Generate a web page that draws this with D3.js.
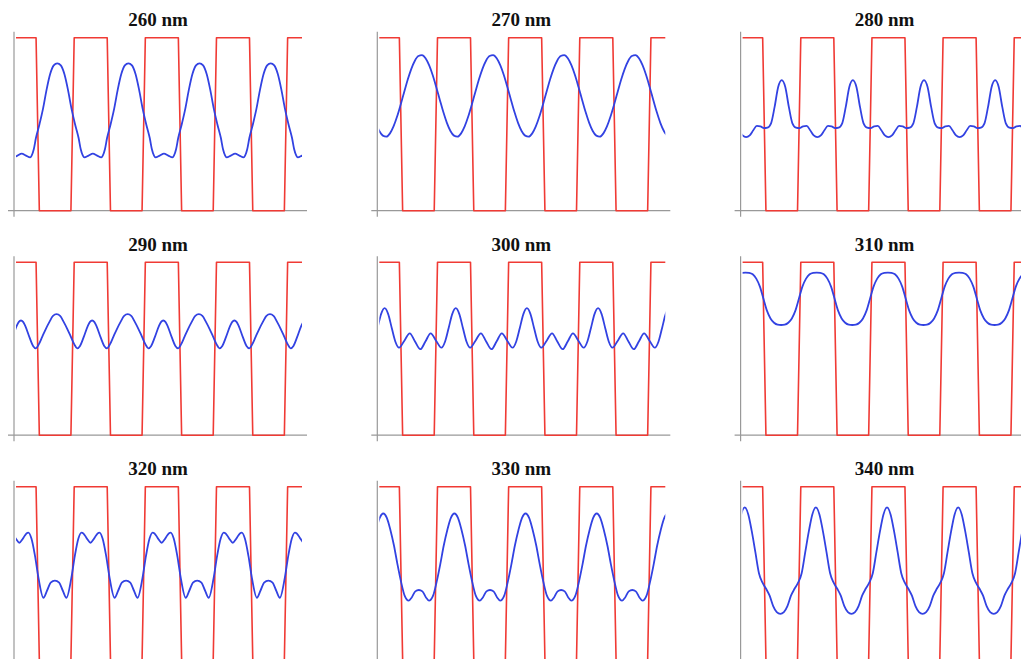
<!DOCTYPE html>
<html>
<head>
<meta charset="utf-8">
<script src="https://cdn.jsdelivr.net/npm/d3@7"></script>
<style>
  body { margin: 0; background: #fff; }
  svg { display: block; }
  .title { font-family: "Liberation Serif", serif; font-weight: bold; font-size: 19px; fill: #111; }
</style>
</head>
<body>
<div id="chart"></div>
<script>
// titles of the 9 small multiples (wavelength)
const titles = ['260 nm', '270 nm', '280 nm', '290 nm', '300 nm', '310 nm', '320 nm', '330 nm', '340 nm'];

// mask (red square wave): edge positions in grating periods, alternating fall / rise
const xMax = 4.02;
const redEdges = [0.305, 0.795, 1.305, 1.795, 2.305, 2.795, 3.305, 3.795];

// aerial image (blue), one grating period each: [phase, intensity], intensity on the 0..1 mask scale
const blue260 = [[0.02, 0.318], [0.08, 0.33], [0.14, 0.318], [0.20, 0.308], [0.22, 0.318], [0.25, 0.355], [0.28, 0.42],
  [0.33, 0.50], [0.38, 0.59], [0.43, 0.70], [0.48, 0.79], [0.53, 0.84], [0.58, 0.852], [0.63, 0.84], [0.68, 0.79],
  [0.73, 0.70], [0.78, 0.59], [0.83, 0.50], [0.88, 0.42], [0.91, 0.355], [0.94, 0.318], [0.96, 0.308]];
const blue270 = [[0.00, 0.461], [0.05, 0.434], [0.10, 0.428], [0.15, 0.447], [0.20, 0.487], [0.25, 0.544], [0.30, 0.613],
  [0.35, 0.686], [0.40, 0.758], [0.45, 0.820], [0.50, 0.867], [0.55, 0.894], [0.60, 0.899], [0.65, 0.881], [0.70, 0.841],
  [0.75, 0.784], [0.80, 0.715], [0.85, 0.642], [0.90, 0.570], [0.95, 0.508]];
const blue280 = [[0.00, 0.435], [0.05, 0.425], [0.10, 0.435], [0.15, 0.465], [0.20, 0.49], [0.25, 0.488], [0.30, 0.477],
  [0.35, 0.48], [0.40, 0.505], [0.45, 0.60], [0.50, 0.715], [0.55, 0.755], [0.60, 0.715], [0.65, 0.60], [0.70, 0.505],
  [0.75, 0.48], [0.80, 0.477], [0.85, 0.488], [0.90, 0.49], [0.95, 0.465]];
const blue290 = [[0.01, 0.632], [0.04, 0.655], [0.07, 0.663], [0.10, 0.655], [0.13, 0.632], [0.19, 0.565], [0.24, 0.516],
  [0.28, 0.502], [0.32, 0.525], [0.37, 0.57], [0.42, 0.615], [0.47, 0.655], [0.52, 0.69], [0.57, 0.70], [0.62, 0.69],
  [0.67, 0.655], [0.72, 0.615], [0.77, 0.57], [0.82, 0.525], [0.86, 0.502], [0.90, 0.516], [0.95, 0.565]];
const blue300 = [[0.025, 0.70], [0.075, 0.734], [0.125, 0.70], [0.175, 0.62], [0.225, 0.542], [0.278, 0.506], [0.35, 0.545],
  [0.428, 0.589], [0.50, 0.543], [0.577, 0.497], [0.65, 0.543], [0.722, 0.589], [0.80, 0.545], [0.873, 0.506],
  [0.925, 0.542], [0.975, 0.62]];
const blue310 = [[0.042, 0.94], [0.092, 0.938], [0.142, 0.93], [0.192, 0.905], [0.242, 0.86], [0.292, 0.79], [0.342, 0.72],
  [0.392, 0.675], [0.442, 0.65], [0.492, 0.639], [0.542, 0.637], [0.592, 0.639], [0.642, 0.65], [0.692, 0.675],
  [0.742, 0.72], [0.792, 0.79], [0.842, 0.86], [0.892, 0.905], [0.942, 0.93], [0.992, 0.938]];
const blue320 = [[0.047, 0.676], [0.097, 0.70], [0.147, 0.73], [0.174, 0.734], [0.217, 0.70], [0.267, 0.60], [0.317, 0.47],
  [0.385, 0.358], [0.437, 0.40], [0.487, 0.445], [0.547, 0.457], [0.607, 0.445], [0.657, 0.40], [0.709, 0.358],
  [0.777, 0.47], [0.827, 0.60], [0.877, 0.70], [0.920, 0.734], [0.947, 0.73], [0.997, 0.70]];
const blue330 = [[0.006, 0.82], [0.056, 0.845], [0.106, 0.82], [0.156, 0.75], [0.206, 0.66], [0.256, 0.55], [0.306, 0.45],
  [0.356, 0.37], [0.413, 0.341], [0.456, 0.36], [0.506, 0.395], [0.556, 0.403], [0.606, 0.395], [0.656, 0.36],
  [0.699, 0.341], [0.756, 0.37], [0.806, 0.45], [0.856, 0.55], [0.906, 0.66], [0.956, 0.75]];
const blue340 = [[0.03, 0.88], [0.08, 0.84], [0.13, 0.74], [0.18, 0.62], [0.23, 0.50], [0.28, 0.445], [0.33, 0.41],
  [0.38, 0.37], [0.43, 0.31], [0.48, 0.275], [0.53, 0.265], [0.58, 0.275], [0.63, 0.31], [0.68, 0.37], [0.73, 0.41],
  [0.78, 0.445], [0.83, 0.50], [0.88, 0.62], [0.93, 0.74], [0.98, 0.84]];

const profiles = [blue260, blue270, blue280, blue290, blue300, blue310, blue320, blue330, blue340];

const width = 1021;
const height = 659;

const svg = d3.select('#chart').append('svg').attr('width', width).attr('height', height);

// square wave with slightly slanted edges (sampled)
const redPoints = [[0, 1]];
let level = 1;
redEdges.forEach(e => {
  redPoints.push([e - 0.023, level]);
  level = 1 - level;
  redPoints.push([e + 0.023, level]);
});
redPoints.push([xMax, level]);

// repeat one period across the plotted range
function tile(profile) {
  const pts = [];
  for (let k = -1; k <= 5; k++) {
    profile.forEach(([q, v]) => pts.push([k + q, v]));
  }
  return pts;
}

titles.forEach((title, i) => {
  const col = i % 3;
  const row = Math.floor(i / 3);
  const x0 = 16 + col * 363.3;
  const top = 37.7 + row * 224.5;
  const plotW = 286;
  const plotH = 173;

  const x = d3.scaleLinear().domain([0, xMax]).range([x0, x0 + plotW]);
  const y = d3.scaleLinear().domain([0, 1]).range([top + plotH, top]);

  const g = svg.append('g');

  // axes
  g.append('line')
    .attr('x1', x(0) - 2).attr('x2', x(0) - 2)
    .attr('y1', y(1) - 6).attr('y2', y(0) + 6)
    .style('stroke', '#999').style('stroke-width', 1.2);
  g.append('line')
    .attr('x1', x(0) - 8).attr('x2', x(xMax) + 5)
    .attr('y1', y(0)).attr('y2', y(0))
    .style('stroke', '#999').style('stroke-width', 1.2);

  const clipId = `clip-${i}`;
  g.append('clipPath').attr('id', clipId)
    .append('rect')
    .attr('x', x(0)).attr('y', y(1) - 10)
    .attr('width', x(xMax) - x(0)).attr('height', plotH + 20);

  const line = d3.line().x(d => x(d[0])).y(d => y(d[1]));

  g.append('path')
    .datum(redPoints)
    .attr('d', line)
    .style('fill', 'none')
    .style('stroke', '#f03a34')
    .style('stroke-width', 1.6)
    .style('stroke-linejoin', 'round');

  g.append('path')
    .datum(tile(profiles[i]))
    .attr('clip-path', `url(#${clipId})`)
    .attr('d', line.curve(d3.curveMonotoneX))
    .style('fill', 'none')
    .style('stroke', '#3242e2')
    .style('stroke-width', 1.8);

  g.append('text')
    .attr('class', 'title')
    .attr('x', x(0) + plotW / 2 - 1)
    .attr('y', top - 11.5)
    .attr('text-anchor', 'middle')
    .text(title);
});
</script>
</body>
</html>
